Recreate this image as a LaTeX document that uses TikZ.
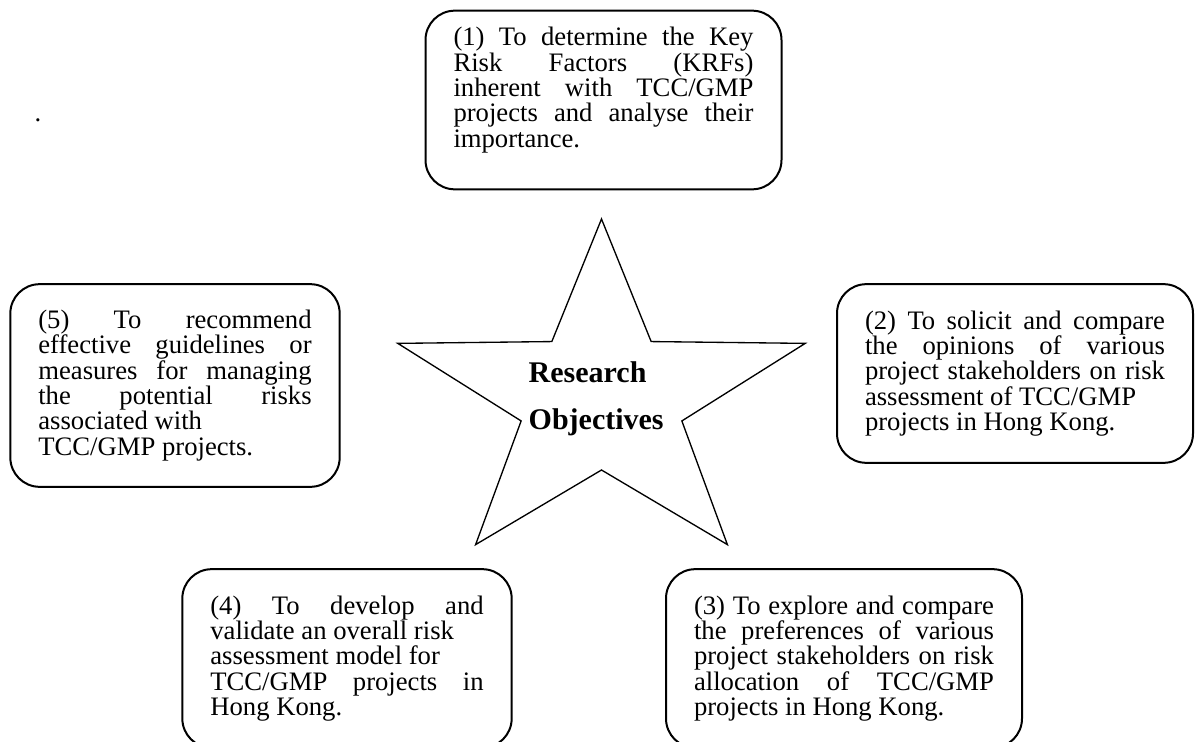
\documentclass[tikz,border=0pt]{standalone}
\usepackage{fontspec}
\setmainfont{Liberation Serif}

% fixed line pitch inside the boxes
\newcommand\boxfont{\fontsize{20pt}{19pt}\selectfont
  \normalbaselineskip19pt\relax\lineskiplimit-50pt\relax\normallineskiplimit-50pt\relax}

\tikzset{
  objbox/.style={draw, line width=1.5pt, rounded corners=22pt, align=justify,
    inner xsep=21pt, inner ysep=0pt, font=\boxfont},
  widebox/.style={objbox, text width=225pt, minimum height=134pt},
  narrowbox/.style={objbox, text width=205pt, minimum height=134pt},
}

\begin{document}
\begin{tikzpicture}[x=0.75pt, y=-0.75pt]
        \useasboundingbox (0,0) rectangle (1197,742);
        \clip (0,0) rectangle (1197,742);

        \coordinate (hub) at (601.5,399);
        \node[font=\bfseries\fontsize{22.5pt}{35pt}\selectfont, align=left, xshift=-4pt] (obj) at (hub) {Research\\Objectives};

        % the star round the centre
        \begin{scope}[shift={(hub)}, xscale=1.19]
            \draw[line width=1pt] (270:180) -- (306:71) -- (342:180) -- (18:71) -- (54:180) -- (90:71)
                -- (126:180) -- (162:71) -- (198:180) -- (234:71) -- cycle;
        \end{scope}

        \node[widebox] (O1) at (603.5,100) {(1) To determine the Key\linebreak Risk Factors (KRFs)\linebreak inherent with TCC/GMP\linebreak projects and analyse their\linebreak importance.\par\mbox{}};
        \node[widebox] (O2) at (1015,373.5) {(2) To solicit and compare\linebreak the opinions of various\linebreak project stakeholders on risk\linebreak assessment of TCC/GMP\newline projects in Hong Kong.};
        \node[widebox] (O3) at (844,658.5) {(3) To explore and compare\linebreak the preferences of various\linebreak project stakeholders on risk\linebreak allocation of TCC/GMP\linebreak projects in Hong Kong.};
        \node[narrowbox] (O4) at (347,658.5) {(4) To develop and\linebreak validate an overall risk\newline assessment model for\newline TCC/GMP projects in\linebreak Hong Kong.};
        \node[narrowbox, minimum height=152pt] (O5) at (175,385.5) {(5) To recommend\linebreak effective guidelines or\linebreak measures for managing\linebreak the potential risks\linebreak associated with\newline TCC/GMP projects.};

        \node[font=\boxfont] (dot) at (38,120) {.};
\end{tikzpicture}
\end{document}
